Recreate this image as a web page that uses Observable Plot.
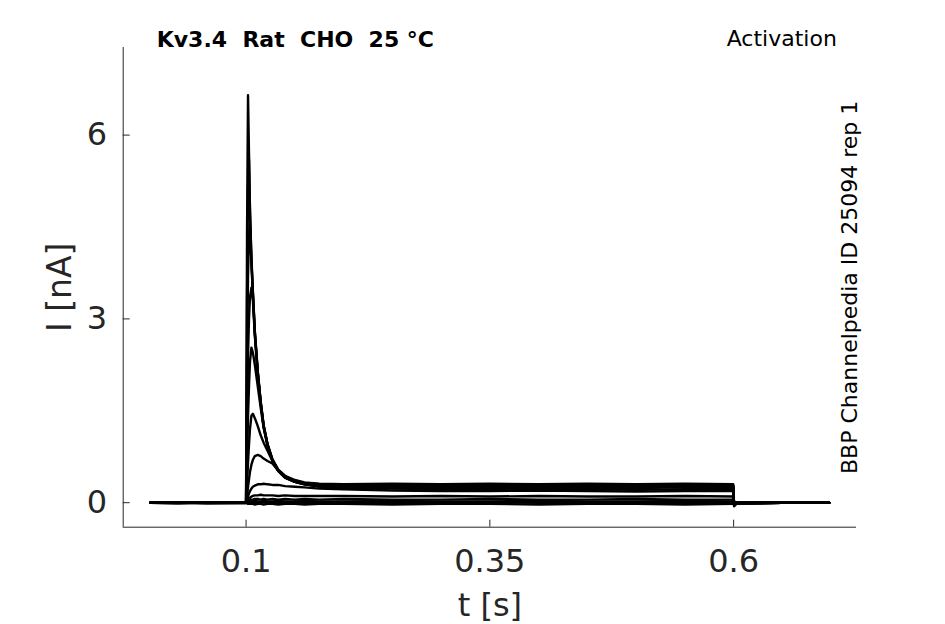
<!DOCTYPE html>
<html>
<head>
<meta charset="utf-8">
<script src="https://cdn.jsdelivr.net/npm/d3@7"></script>
<script src="https://cdn.jsdelivr.net/npm/@observablehq/plot@0.6"></script>
<style>
  html, body { margin: 0; padding: 0; background: #fff; }
  #chart svg { display: block; }
  #chart svg text { white-space: pre; }
</style>
</head>
<body>
<div id="chart"></div>
<script>
// ---- text ----
const title = "Kv3.4  Rat  CHO  25 °C";
const protocol = "Activation";
const source = "BBP Channelpedia ID 25094 rep 1";
const xLabel = "t [s]";
const yLabel = "I [nA]";

// ---- axes ----
const xTicks = [0.1, 0.35, 0.6];
const xTickLabels = ["0.1", "0.35", "0.6"];
const yTicks = [0, 3, 6];
const xDomain = [-0.026, 0.726];
const yDomain = [-0.40, 7.43];

// ---- sample times (s), shared by all sweeps ----
const times = [0.002, 0.03, 0.06, 0.0995, 0.1,
  0.1005, 0.101, 0.102, 0.103, 0.104, 0.1055,
  0.107, 0.109, 0.112, 0.115, 0.118, 0.122, 0.127, 0.133, 0.14, 0.15, 0.16, 0.175,
  0.2, 0.25, 0.3, 0.35, 0.4, 0.45, 0.5, 0.55, 0.5995,
  0.6005, 0.603, 0.65, 0.698];

// ---- currents (nA), one array per sweep ----
const sweep01 = [0, 0.01, -0.01, 0, 0,
  2.2, 4.4, 6.65, 5.7, 4.8, 4.0,
  3.45, 2.8, 2.15, 1.65, 1.27, 0.96, 0.71, 0.54, 0.44, 0.37, 0.33, 0.31,
  0.3, 0.31, 0.3, 0.31, 0.3, 0.31, 0.3, 0.31, 0.3,
  -0.06, -0.01, 0, 0];
const sweep02 = [0, -0.01, 0.01, 0, 0,
  1.5, 3.3, 5.1, 5.6, 4.75, 3.95,
  3.42, 2.78, 2.13, 1.64, 1.26, 0.95, 0.7, 0.53, 0.43, 0.36, 0.32, 0.3,
  0.29, 0.28, 0.3, 0.29, 0.29, 0.28, 0.29, 0.3, 0.29,
  -0.05, -0.01, 0, 0];
const sweep03 = [0, 0, 0.01, 0, 0,
  1.0, 2.2, 3.7, 4.35, 4.53, 3.9,
  3.4, 2.76, 2.12, 1.63, 1.25, 0.95, 0.7, 0.53, 0.42, 0.36, 0.32, 0.29,
  0.28, 0.29, 0.28, 0.27, 0.28, 0.29, 0.28, 0.27, 0.28,
  -0.05, -0.01, 0, 0];
const sweep04 = [0.01, 0, 0, -0.01, 0,
  0.6, 1.3, 2.4, 3.0, 3.35, 3.51,
  3.3, 2.72, 2.1, 1.62, 1.24, 0.94, 0.69, 0.52, 0.42, 0.35, 0.31, 0.28,
  0.27, 0.27, 0.26, 0.27, 0.28, 0.27, 0.26, 0.27, 0.27,
  -0.05, -0.01, 0, 0];
const sweep05 = [0, 0, -0.01, 0, 0,
  0.3, 0.7, 1.4, 1.9, 2.3, 2.53,
  2.45, 2.25, 1.9, 1.55, 1.22, 0.93, 0.69, 0.52, 0.41, 0.34, 0.3, 0.27,
  0.26, 0.25, 0.26, 0.26, 0.25, 0.26, 0.27, 0.26, 0.26,
  -0.04, -0.01, 0, 0];
const sweep06 = [0, 0.01, 0, 0, 0,
  0.1, 0.3, 0.65, 0.95, 1.2, 1.42,
  1.45, 1.38, 1.25, 1.1, 0.98, 0.85, 0.68, 0.52, 0.41, 0.34, 0.3, 0.27,
  0.25, 0.24, 0.25, 0.24, 0.25, 0.24, 0.24, 0.25, 0.24,
  -0.04, -0.01, 0, 0];
const sweep07 = [0, 0, 0, 0.01, 0,
  0.05, 0.12, 0.25, 0.38, 0.5, 0.62,
  0.7, 0.76, 0.78, 0.76, 0.72, 0.68, 0.64, 0.52, 0.41, 0.34, 0.3, 0.26,
  0.24, 0.23, 0.22, 0.22, 0.23, 0.22, 0.21, 0.22, 0.22,
  -0.03, -0.01, 0, 0];
const sweep08 = [0, -0.01, 0, 0, 0,
  0.02, 0.05, 0.1, 0.15, 0.19, 0.23,
  0.26, 0.28, 0.3, 0.3, 0.31, 0.3, 0.29, 0.29, 0.27, 0.26, 0.25, 0.23,
  0.22, 0.2, 0.19, 0.19, 0.2, 0.19, 0.18, 0.19, 0.19,
  -0.03, 0, 0, 0];
const sweep09 = [0, 0, 0, 0, 0,
  0.01, 0.02, 0.04, 0.06, 0.08, 0.1,
  0.11, 0.12, 0.12, 0.13, 0.12, 0.12, 0.12, 0.11, 0.12, 0.11, 0.11, 0.11,
  0.11, 0.1, 0.11, 0.1, 0.11, 0.1, 0.1, 0.11, 0.1,
  -0.02, 0, 0, 0];
const sweep10 = [0, 0, 0.01, 0, 0,
  0, 0.01, 0.02, 0.03, 0.04, 0.05,
  0.05, 0.06, 0.06, 0.05, 0.06, 0.05, 0.06, 0.05, 0.06, 0.05, 0.06, 0.05,
  0.06, 0.05, 0.05, 0.06, 0.05, 0.05, 0.06, 0.05, 0.05,
  -0.01, 0, 0, 0];
const sweep11 = [0, 0, 0, 0, 0,
  0, 0.01, 0.01, 0.02, 0.02, 0.02,
  0.02, 0.03, 0.02, 0.02, 0.03, 0.02, 0.02, 0.03, 0.02, 0.02, 0.03, 0.02,
  0.02, 0.03, 0.02, 0.02, 0.03, 0.02, 0.02, 0.03, 0.02,
  0, 0, 0, 0];
const sweep12 = [0, 0, 0, 0, 0,
  0, 0, 0, 0.01, 0, 0,
  0.01, 0, -0.01, 0, 0.01, 0, 0, -0.01, 0, 0.01, 0, 0,
  0, -0.01, 0, 0.01, 0, -0.01, 0, 0, 0,
  0, 0, 0, 0];
const sweep13 = [0, 0, 0, 0, 0,
  -0.01, -0.01, -0.02, -0.02, -0.02, -0.02,
  -0.02, -0.03, -0.02, -0.02, -0.03, -0.02, -0.02, -0.03, -0.02, -0.02, -0.03, -0.02,
  -0.02, -0.03, -0.02, -0.02, -0.03, -0.02, -0.02, -0.03, -0.02,
  -0.01, 0, 0, 0];

const sweeps = [sweep01, sweep02, sweep03, sweep04, sweep05, sweep06, sweep07,
  sweep08, sweep09, sweep10, sweep11, sweep12, sweep13];

// ---- long table for Plot ----
const rows = [];
sweeps.forEach((s, k) => s.forEach((v, i) => rows.push({t: times[i], I: v, sweep: k})));

// ---- layout ----
const W = 945, H = 624;
const mL = 122.7, mR = 89, mT = 47, mB = 97.3;
const frameW = W - mL - mR, frameH = H - mT - mB;
const ink = "#262626";

const chart = Plot.plot({
  width: W, height: H,
  marginLeft: mL, marginRight: mR, marginTop: mT, marginBottom: mB,
  style: {fontFamily: "DejaVu Sans", color: ink, background: "white", overflow: "visible"},
  x: {domain: xDomain},
  y: {domain: yDomain},
  marks: [
    Plot.ruleX([xDomain[0]], {stroke: ink, strokeWidth: 1}),
    Plot.ruleY([yDomain[0]], {stroke: ink, strokeWidth: 1}),
    Plot.ruleX(xTicks, {insetTop: frameH - 7, stroke: ink, strokeWidth: 1}),
    Plot.ruleY(yTicks, {insetRight: frameW - 7, stroke: ink, strokeWidth: 1}),
    Plot.axisX({ticks: xTicks, tickSize: 0, tickPadding: 22, fontSize: 32, label: null,
      tickFormat: d => xTickLabels[xTicks.indexOf(d)]}),
    Plot.axisY({ticks: yTicks, tickSize: 0, tickPadding: 16, fontSize: 32, label: null}),
    Plot.line(rows, {x: "t", y: "I", z: "sweep", stroke: "black", strokeWidth: 2.4,
      strokeLinejoin: "round"}),
    Plot.text([xLabel], {frameAnchor: "bottom", lineAnchor: "middle", dy: 79, fontSize: 32, fill: ink}),
    Plot.text([yLabel], {frameAnchor: "left", lineAnchor: "middle", textAnchor: "middle",
      dx: -62.7, rotate: -90, fontSize: 33, fill: ink}),
    Plot.text([title], {frameAnchor: "top-left", lineAnchor: "middle", textAnchor: "start",
      dx: 33.5, dy: -7.6, fontSize: 22, fontWeight: "bold", fill: "black"}),
    Plot.text([protocol], {frameAnchor: "top-left", lineAnchor: "middle", textAnchor: "start",
      dx: 603.5, dy: -8.3, fontSize: 22, fill: "black"}),
    Plot.text([source], {frameAnchor: "right", lineAnchor: "middle", textAnchor: "middle",
      rotate: -90, dx: -6.3, fontSize: 22, fill: "black"})
  ]
});
document.getElementById("chart").appendChild(chart);
</script>
</body>
</html>
